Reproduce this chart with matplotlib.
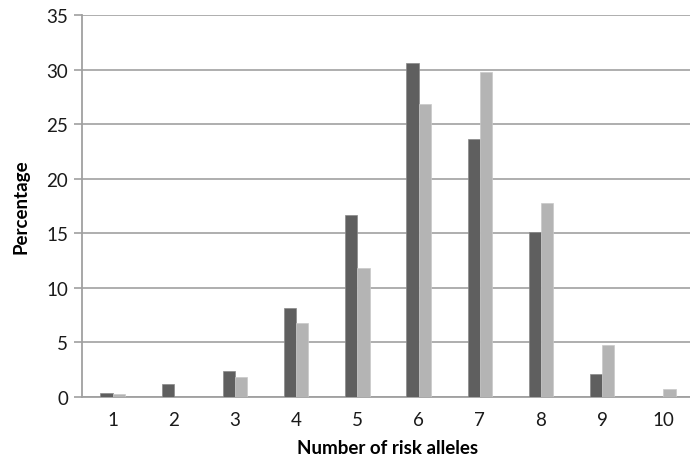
import numpy as np
import matplotlib
matplotlib.use('Agg')
import matplotlib.pyplot as plt

# number of risk alleles
categories = [1, 2, 3, 4, 5, 6, 7, 8, 9, 10]
# two groups (dark / light)
dark_pct = [0.4, 1.2, 2.4, 8.2, 16.7, 30.6, 23.6, 15.1, 2.1, 0.0]
light_pct = [0.3, 0.0, 1.8, 6.8, 11.8, 26.8, 29.8, 17.8, 4.8, 0.7]
yticks = [0, 5, 10, 15, 20, 25, 30, 35]

plt.rcParams['font.family'] = ['Lato', 'DejaVu Sans']

fig = plt.figure(figsize=(6.9, 4.6), dpi=100)
ax = fig.add_axes([82 / 690, 1 - 398 / 460, 612 / 690, (398 - 16) / 460])

x = np.array(categories)
w = 0.2
ax.bar(x - w / 2, dark_pct, width=w, color='#5f5f5f', edgecolor='#8a8a8a', linewidth=0.5, zorder=3)
ax.bar(x + w / 2, light_pct, width=w, color='#b4b4b4', edgecolor='#c8c8c8', linewidth=0.5, zorder=3)

ax.set_xlim(0.5, 10.5)
ax.set_ylim(0, 35)
ax.set_yticks(yticks)
ax.set_xticks(categories)
ax.yaxis.grid(True, color='#a8a8a8', linewidth=1.3, zorder=0)
ax.set_axisbelow(True)

for s in ['top', 'right']:
    ax.spines[s].set_visible(False)
for s in ['left', 'bottom']:
    ax.spines[s].set_color('#a0a0a0')
    ax.spines[s].set_linewidth(1.3)

ax.tick_params(axis='y', colors='#a0a0a0', labelcolor='#1a1a1a', length=6, width=1.2, labelsize=13.5, pad=4)
ax.tick_params(axis='x', length=0, labelcolor='#1a1a1a', labelsize=13.5, pad=10)

ax.set_xlabel('Number of risk alleles', fontsize=13.5, fontweight='bold', labelpad=8)
ax.set_ylabel('Percentage', fontsize=13.5, fontweight='bold', labelpad=12)

fig.savefig('out.png', dpi=100)
